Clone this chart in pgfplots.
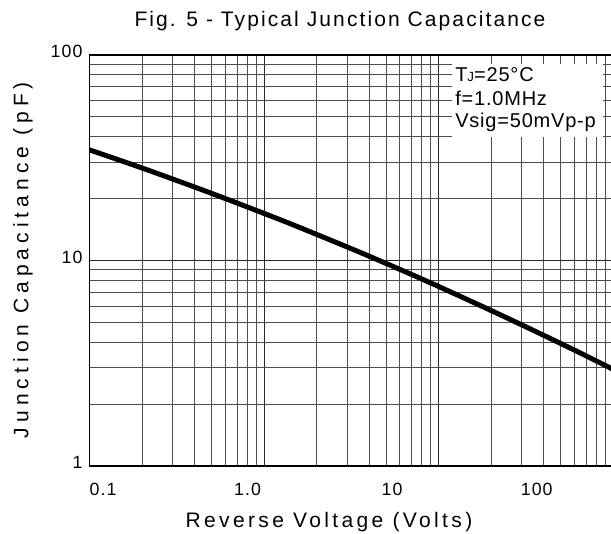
\documentclass[border=0pt]{standalone}
\usepackage{fontspec}
\setmainfont{Liberation Sans}
\usepackage{pgfplots}
\pgfplotsset{compat=1.18}
\newfontfamily\titlefont{Liberation Sans}[LetterSpace=10]
\newfontfamily\xlabfont{Liberation Sans}[LetterSpace=16]
\newfontfamily\ylabfont{Liberation Sans}[LetterSpace=24]
\newfontfamily\tickfont{Liberation Sans}[LetterSpace=6]
\newfontfamily\boxfont{Liberation Sans}[LetterSpace=4]
\begin{document}
\begin{tikzpicture}[x=0.75pt,y=-0.75pt]
\path[use as bounding box] (0,0) rectangle (611,533);
% grid axis (decades of the grid)
\begin{axis}[at={(67.275pt,-41.25pt)}, anchor=north west, scale only axis,
  width=392.625pt, height=308.25pt,
  xmode=log, ymode=log, xmin=1, xmax=1000, ymin=1, ymax=100,
  xtick={1,10,100,1000}, xticklabels={},
  ytick={1,10,100}, yticklabels={1,10,100},
  grid=both,
  major grid style={black!85, line width=0.75pt},
  minor grid style={black!70, line width=0.75pt},
  major tick length=0pt, minor tick length=0pt,
  axis line style={black, line width=1pt},
  /pgf/number format/assume math mode=true,
  yticklabel style={font=\tickfont\fontsize{13.3}{13.3}\selectfont, anchor=east, inner sep=0pt, xshift=-5.25pt, yshift=2.5pt},
]
\addplot[draw=none] coordinates {(1,1) (1000,100)};
\end{axis}
% data axis (voltage as labelled)
\begin{axis}[at={(67.275pt,-41.25pt)}, anchor=north west, scale only axis,
  width=392.625pt, height=308.25pt,
  xmode=log, ymode=log, xmin=0.0809, xmax=338.2, ymin=1, ymax=100,
  xtick={0.1,1,10,100}, xticklabels={0.1,1.0,10,100},
  ytick=\empty, minor xtick={}, minor ytick={},
  major tick length=0pt, minor tick length=0pt,
  axis line style={draw=none},
  /pgf/number format/assume math mode=true,
  xticklabel style={font=\tickfont\fontsize{13.3}{13.3}\selectfont, anchor=north, inner sep=0pt, yshift=-12.75pt},
]
\addplot[black, line width=3.75pt, smooth] coordinates {
  (0.078,34.8) (0.1,32.8) (0.2,27.7) (0.5,21.9) (1,18.2) (2,15.05) (5,11.56)
  (10,9.40) (20,7.59) (50,5.65) (100,4.49) (200,3.55) (345,2.93)
};
\end{axis}
% white box behind the conditions
\fill[white] (452,63.5) rectangle (603,137);
\node[anchor=base west, inner sep=0pt, font=\boxfont\fontsize{15}{15}\selectfont] at (455,81.7) {T{\fontsize{10}{10}\selectfont J}=25°C};
\node[anchor=base west, inner sep=0pt, font=\boxfont\fontsize{15}{15}\selectfont] at (455,105) {f=1.0MHz};
\node[anchor=base west, inner sep=0pt, font=\boxfont\fontsize{15}{15}\selectfont] at (455,127.5) {Vsig=50mVp-p};
% title and axis labels
\node[anchor=base, inner sep=0pt, font=\titlefont\fontsize{15.75}{15.75}\selectfont] at (340,26.7) {Fig. 5 - Typical Junction Capacitance};
\node[anchor=base, inner sep=0pt, font=\xlabfont\fontsize{15.75}{15.75}\selectfont] at (329,527.7) {Reverse Voltage (Volts)};
\node[anchor=base, inner sep=0pt, rotate=90, font=\ylabfont\fontsize{15.75}{15.75}\selectfont] at (28.3,260) {Junction Capacitance (pF)};
\end{tikzpicture}
\end{document}
